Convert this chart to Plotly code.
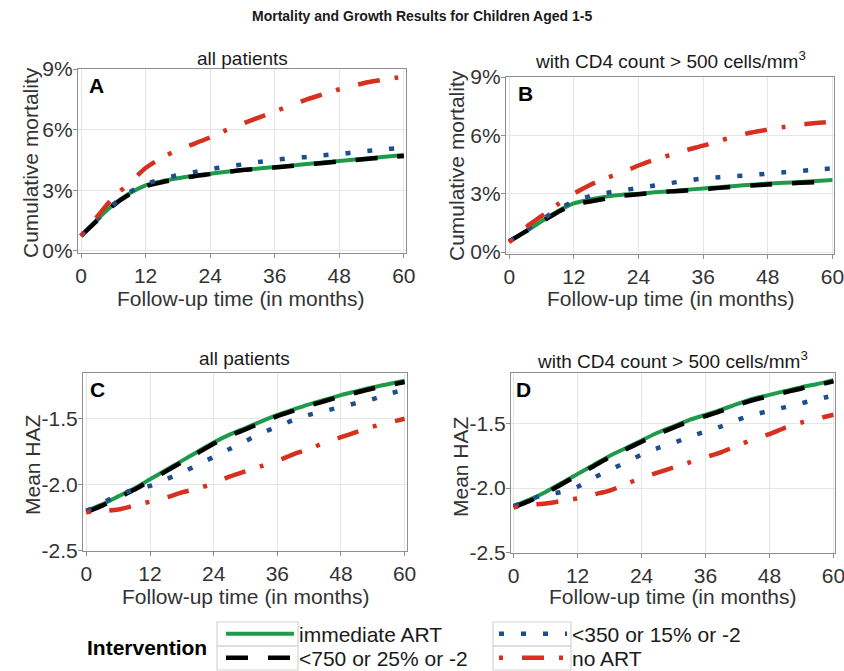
import plotly.graph_objects as go

W, H = 844, 671

months = [0, 3, 6, 9, 12, 15, 18, 21, 24, 27, 30, 33, 36, 39, 42, 45, 48, 51, 54, 57, 60]

# Panel A: cumulative mortality (%), all patients
a_immediate = [0.75, 1.55, 2.3, 2.85, 3.25, 3.45, 3.6, 3.72, 3.82, 3.92, 4.0, 4.08, 4.15, 4.22, 4.3, 4.38, 4.45, 4.52, 4.6, 4.67, 4.75]
a_750 = [0.75, 1.5, 2.25, 2.8, 3.2, 3.4, 3.55, 3.7, 3.8, 3.9, 4.0, 4.07, 4.13, 4.2, 4.28, 4.35, 4.43, 4.5, 4.57, 4.63, 4.7]
a_350 = [0.75, 1.55, 2.3, 2.9, 3.3, 3.55, 3.75, 3.9, 4.05, 4.17, 4.28, 4.4, 4.5, 4.6, 4.65, 4.73, 4.8, 4.88, 4.97, 5.05, 5.1]
a_noart = [0.75, 1.7, 2.65, 3.35, 4.1, 4.6, 5.0, 5.3, 5.62, 5.98, 6.3, 6.6, 6.9, 7.2, 7.5, 7.75, 8.0, 8.2, 8.38, 8.5, 8.62]

# Panel B: cumulative mortality (%), CD4 > 500
b_immediate = [0.55, 1.05, 1.58, 2.1, 2.5, 2.7, 2.85, 2.95, 3.0, 3.07, 3.13, 3.2, 3.27, 3.33, 3.4, 3.46, 3.52, 3.56, 3.6, 3.65, 3.7]
b_750 = [0.55, 1.05, 1.55, 2.05, 2.45, 2.6, 2.75, 2.9, 2.97, 3.05, 3.12, 3.17, 3.22, 3.3, 3.36, 3.42, 3.47, 3.52, 3.56, 3.6, 3.65]
b_350 = [0.55, 1.1, 1.65, 2.2, 2.6, 2.88, 3.04, 3.17, 3.3, 3.42, 3.55, 3.67, 3.78, 3.85, 3.9, 3.96, 4.03, 4.1, 4.17, 4.24, 4.3]
b_noart = [0.5, 1.25, 1.85, 2.45, 3.0, 3.45, 3.8, 4.1, 4.45, 4.75, 5.0, 5.25, 5.47, 5.72, 5.95, 6.15, 6.3, 6.43, 6.55, 6.63, 6.7]

# Panel C: mean HAZ, all patients
c_immediate = [-2.2, -2.15, -2.09, -2.03, -1.96, -1.89, -1.82, -1.75, -1.68, -1.62, -1.57, -1.52, -1.47, -1.43, -1.39, -1.355, -1.32, -1.29, -1.26, -1.235, -1.21]
c_750 = [-2.21, -2.16, -2.1, -2.04, -1.97, -1.9, -1.83, -1.76, -1.69, -1.63, -1.58, -1.53, -1.48, -1.44, -1.4, -1.365, -1.33, -1.3, -1.27, -1.245, -1.22]
c_350 = [-2.2, -2.14, -2.08, -2.04, -2.01, -1.96, -1.91, -1.85, -1.79, -1.73, -1.67, -1.61, -1.56, -1.51, -1.47, -1.44, -1.41, -1.38, -1.35, -1.31, -1.28]
c_noart = [-2.21, -2.2, -2.19, -2.16, -2.13, -2.1, -2.06, -2.03, -1.99, -1.94, -1.9, -1.86, -1.82, -1.77, -1.73, -1.68, -1.64, -1.6, -1.56, -1.53, -1.5]

# Panel D: mean HAZ, CD4 > 500
d_immediate = [-2.14, -2.09, -2.03, -1.96, -1.89, -1.82, -1.75, -1.69, -1.63, -1.57, -1.52, -1.47, -1.43, -1.39, -1.345, -1.305, -1.275, -1.245, -1.215, -1.19, -1.16]
d_750 = [-2.15, -2.1, -2.04, -1.97, -1.9, -1.83, -1.76, -1.7, -1.64, -1.58, -1.53, -1.48, -1.44, -1.4, -1.355, -1.315, -1.285, -1.255, -1.225, -1.2, -1.17]
d_350 = [-2.14, -2.09, -2.05, -2.03, -1.99, -1.92, -1.86, -1.8, -1.74, -1.69, -1.65, -1.6, -1.56, -1.52, -1.47, -1.43, -1.4, -1.37, -1.34, -1.31, -1.28]
d_noart = [-2.15, -2.13, -2.12, -2.1, -2.08, -2.05, -2.02, -1.97, -1.92, -1.88, -1.84, -1.8, -1.76, -1.72, -1.67, -1.62, -1.58, -1.53, -1.49, -1.46, -1.43]

series_names = ["immediate ART", "<750 or 25% or -2", "<350 or 15% or -2", "no ART"]
x_ticks = [0, 12, 24, 36, 48, 60]
mort_ticks = [0, 3, 6, 9]
mort_labels = ["0%", "3%", "6%", "9%"]
haz_ticks = [-2.5, -2.0, -1.5]
haz_labels = ["-2.5", "-2.0", "-1.5"]

FONT = "Liberation Sans, Arial, sans-serif"
styles = [
    dict(color="#1f9a4c", width=4, dash="solid"),
    dict(color="#000000", width=4.5, dash="22px,20px"),
    dict(color="#1f4e8c", width=4.5, dash="5px,17px"),
    dict(color="#d7301f", width=4.5, dash="4px,19px,22px,15px"),
]
legend_ids = ["legend", "legend2", "legend3", "legend4"]

panels = [
    ("x", "y", [a_immediate, a_750, a_350, a_noart]),
    ("x2", "y2", [b_immediate, b_750, b_350, b_noart]),
    ("x3", "y3", [c_immediate, c_750, c_350, c_noart]),
    ("x4", "y4", [d_immediate, d_750, d_350, d_noart]),
]

fig = go.Figure()
for pi, (xa, ya, data) in enumerate(panels):
    for si, vals in enumerate(data):
        fig.add_trace(go.Scatter(
            x=months, y=vals, xaxis=xa, yaxis=ya, mode="lines",
            line=dict(shape="spline", smoothing=0.8, **styles[si]),
            name=series_names[si], showlegend=(pi == 0),
            legend=legend_ids[si], hoverinfo="skip",
        ))

def px_x(p):
    return p / W

def px_y(p):
    return 1 - p / H

common_axis = dict(
    showline=True, mirror=True, linecolor="#8f8f8f", linewidth=1.3,
    showgrid=True, gridcolor="#e6e6e6", gridwidth=1,
    zeroline=False, ticks="outside", ticklen=4, tickcolor="#8f8f8f", tickwidth=1.2,
    tickfont=dict(family=FONT, size=21, color="#333333"),
    ticklabeloverflow="allow",
)

def xax(dom, rng, anchor):
    return dict(domain=dom, range=rng, tickvals=x_ticks, anchor=anchor, **common_axis)

def yax(dom, rng, anchor, ticks, labels):
    return dict(domain=dom, range=rng, tickvals=ticks, ticktext=labels, anchor=anchor,
                ticklabelstandoff=-4, **common_axis)

legend_common = dict(
    orientation="v", xanchor="left", yanchor="middle",
    font=dict(family=FONT, size=21, color="#1a1a1a"),
    itemwidth=68, bgcolor="rgba(0,0,0,0)", borderwidth=0,
)

fig.update_layout(
    width=W, height=H,
    margin=dict(l=0, r=0, t=0, b=0, autoexpand=False),
    paper_bgcolor="white", plot_bgcolor="white",
    xaxis=xax([px_x(78), px_x(406)], [-0.56, 60.4], "y"),
    yaxis=yax([px_y(253), px_y(69)], [-0.1, 9.0], "x", mort_ticks, mort_labels),
    xaxis2=xax([px_x(506), px_x(834)], [-0.6, 60.3], "y2"),
    yaxis2=yax([px_y(254), px_y(77)], [-0.1, 9.0], "x2", mort_ticks, mort_labels),
    xaxis3=xax([px_x(83), px_x(407)], [-0.63, 60.45], "y3"),
    yaxis3=yax([px_y(551), px_y(373)], [-2.505, -1.152], "x3", haz_ticks, haz_labels),
    xaxis4=xax([px_x(511), px_x(835)], [-0.5, 60.3], "y4"),
    yaxis4=yax([px_y(553), px_y(373)], [-2.505, -1.105], "x4", haz_ticks, haz_labels),
    showlegend=True,
    legend=dict(x=px_x(221), y=px_y(634), **legend_common),
    legend2=dict(x=px_x(221), y=px_y(658), **legend_common),
    legend3=dict(x=px_x(494), y=px_y(634), **legend_common),
    legend4=dict(x=px_x(494), y=px_y(658), **legend_common),
)

# light key boxes around the legend symbols
shapes = []
for (x0, x1) in [(217, 298), (493, 571)]:
    for (y0, y1) in [(622, 646), (646, 670)]:
        shapes.append(dict(type="rect", xref="paper", yref="paper",
                           x0=px_x(x0), x1=px_x(x1), y0=px_y(y1), y1=px_y(y0),
                           line=dict(color="#d4d4d4", width=1.2), layer="above"))
fig.update_layout(shapes=shapes)

annotations = []

def txt(text, x, y, size, bold=False, angle=0, color="#1a1a1a", xanchor="center"):
    annotations.append(dict(
        text=(f"<b>{text}</b>" if bold else text), x=px_x(x), y=px_y(y),
        xref="paper", yref="paper", showarrow=False, textangle=angle,
        xanchor=xanchor, yanchor="middle",
        font=dict(family=FONT, size=size, color=color),
    ))

txt("Mortality and Growth Results for Children Aged 1-5", 422, 16, 14, bold=True)
txt("all patients", 242, 58, 19)
txt("with CD4 count > 500 cells/mm<sup>3</sup>", 670, 60, 19)
txt("all patients", 244, 358, 19)
txt("with CD4 count > 500 cells/mm<sup>3</sup>", 672, 360, 19)
txt("A", 96, 86, 21, bold=True, color="#000000")
txt("B", 525, 93, 21, bold=True, color="#000000")
txt("C", 97, 389, 21, bold=True, color="#000000")
txt("D", 523, 389, 21, bold=True, color="#000000")
for cx, cy in [(241, 298), (670, 298), (245, 596), (672, 596)]:
    txt("Follow-up time (in months)", cx, cy, 21, color="#333333")
txt("Cumulative mortality", 30, 163, 21, angle=-90, color="#333333")
txt("Cumulative mortality", 456, 166, 21, angle=-90, color="#333333")
txt("Mean HAZ", 32, 465, 21, angle=-90, color="#333333")
txt("Mean HAZ", 460, 466, 21, angle=-90, color="#333333")
txt("Intervention", 147, 647, 21, bold=True, color="#000000")

fig.update_layout(annotations=annotations)

fig.write_html("out.html")
